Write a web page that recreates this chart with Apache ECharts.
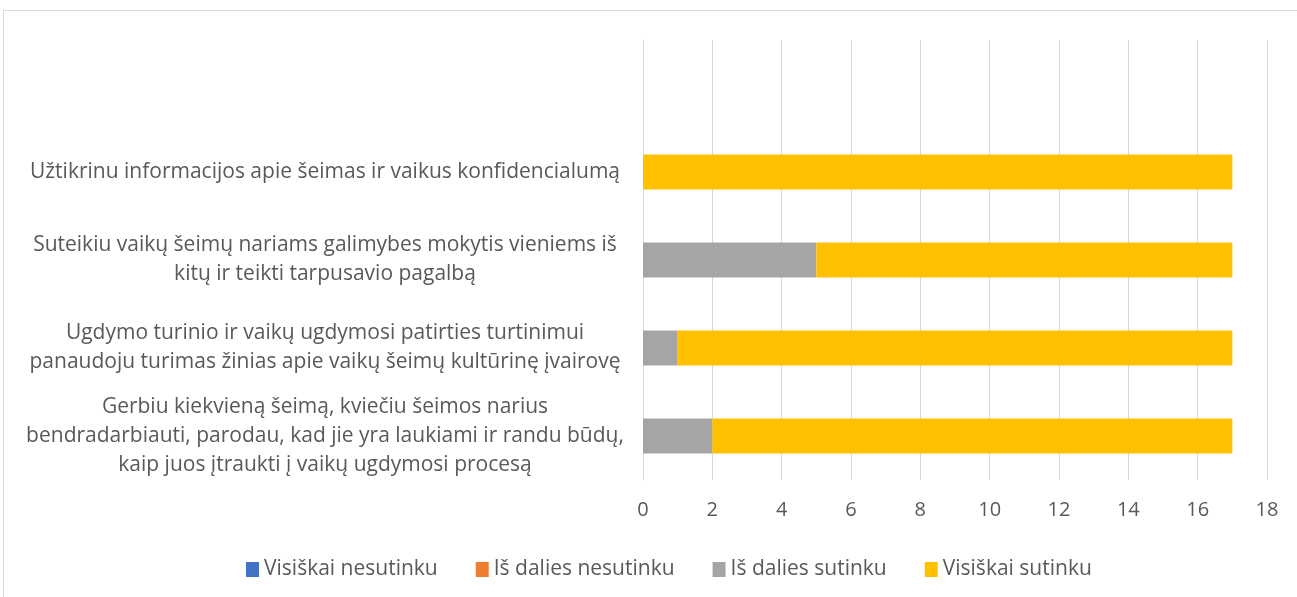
<!DOCTYPE html>
<html>
<head>
<meta charset="utf-8">
<script src="https://cdn.jsdelivr.net/npm/echarts@6/dist/echarts.min.js"></script>
<style>
  html, body { margin: 0; padding: 0; background: #fff; }
  #frame {
    position: absolute; left: 3px; top: 10px;
    width: 1310px; height: 600px;
    border: 1px solid #d9d9d9;
  }
  #myChart {
    position: absolute; left: 0; top: 0;
    width: 1297px; height: 597px;
  }
</style>
</head>
<body>
<div id="frame"></div>
<div id="myChart"></div>
<script>
// kategorijos iš apačios į viršų (viršutinė tuščia, kaip Excel'yje)
const categories = [
  'Gerbiu kiekvieną šeimą, kviečiu šeimos narius\nbendradarbiauti, parodau, kad jie yra laukiami ir randu būdų,\nkaip juos įtraukti į vaikų ugdymosi procesą',
  'Ugdymo turinio ir vaikų ugdymosi patirties turtinimui\npanaudoju turimas žinias apie vaikų šeimų kultūrinę įvairovę',
  'Suteikiu vaikų šeimų nariams galimybes mokytis vieniems iš\nkitų ir teikti tarpusavio pagalbą',
  'Užtikrinu informacijos apie šeimas ir vaikus konfidencialumą',
  ''
]
const seriesNames = ['Visiškai nesutinku', 'Iš dalies nesutinku', 'Iš dalies sutinku', 'Visiškai sutinku']
const visiskaiNesutinku = [0, 0, 0, 0, '-']
const isDaliesNesutinku = [0, 0, 0, 0, '-']
const isDaliesSutinku = [2, 1, 5, 0, '-']
const visiskaiSutinku = [15, 16, 12, 17, '-']
const colors = ['#4472C4', '#ED7D31', '#A5A5A5', '#FFC000']

const font = '"Open Sans", sans-serif'
const textColor = '#595959'

let myChart = echarts.init(document.getElementById('myChart'))
const values = [visiskaiNesutinku, isDaliesNesutinku, isDaliesSutinku, visiskaiSutinku]

myChart.setOption({
  animation: false,
  textStyle: {fontFamily: font},
  legend: {
    top: 554,
    left: 241,
    itemWidth: 13,
    itemHeight: 15,
    itemGap: 38,
    icon: 'rect',
    textStyle: {color: textColor, fontSize: 21, fontFamily: font},
    data: seriesNames
  },
  grid: {
    left: 643,
    right: 30,
    top: 40,
    bottom: 117,
    containLabel: false
  },
  xAxis: {
    type: 'value',
    min: 0,
    max: 18,
    interval: 2,
    axisLine: {show: false},
    axisTick: {show: false},
    axisLabel: {color: textColor, fontSize: 20, margin: 20, fontFamily: font},
    splitLine: {lineStyle: {color: '#d9d9d9', width: 1}}
  },
  yAxis: {
    type: 'category',
    data: categories,
    axisLine: {lineStyle: {color: '#d9d9d9'}},
    axisTick: {show: false},
    axisLabel: {
      color: textColor,
      fontSize: 21,
      lineHeight: 29,
      align: 'center',
      margin: 318,
      fontFamily: font,
      interval: 0
    }
  },
  series: seriesNames.map((name, i) => ({
    name: name,
    type: 'bar',
    stack: 'total',
    barCategoryGap: '60%',
    itemStyle: {color: colors[i]},
    data: values[i]
  }))
})
</script>
</body>
</html>
